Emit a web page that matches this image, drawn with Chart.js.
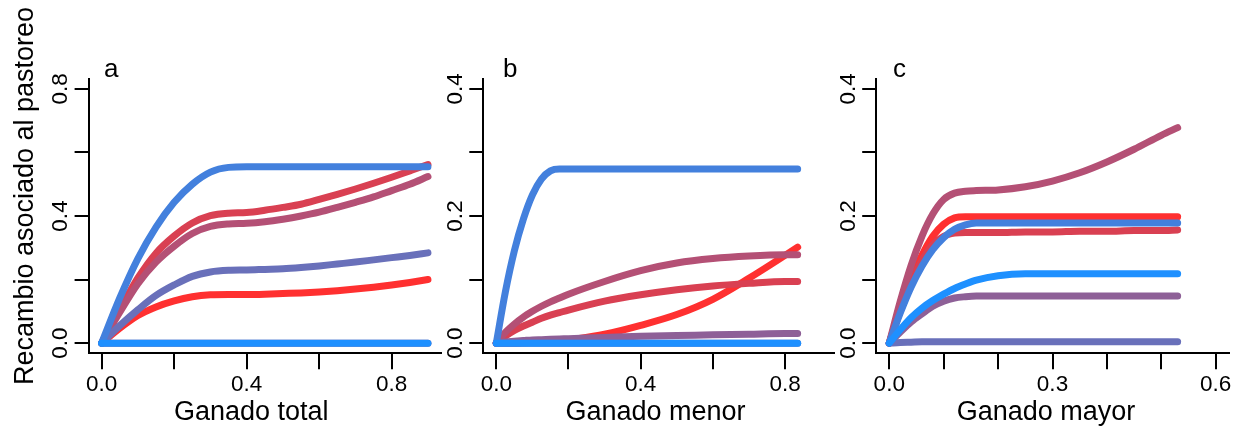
<!DOCTYPE html>
<html>
<head>
<meta charset="utf-8">
<title>Recambio asociado al pastoreo</title>
<script src="https://cdn.jsdelivr.net/npm/chart.js@4.4.1/dist/chart.umd.min.js"></script>
<style>
  body { margin: 0; background: #fff; }
  #wrap { position: relative; width: 1247px; height: 431px; }
  canvas { position: absolute; left: 0; top: 0; }
</style>
</head>
<body>
<div id="wrap">
  <canvas id="panelA" width="1247" height="431"></canvas>
  <canvas id="panelB" width="1247" height="431"></canvas>
  <canvas id="panelC" width="1247" height="431"></canvas>
</div>
<script>
// --- data ---

// colour ramp red -> dodgerblue, one per series
const seriesColors = ['#FF3030', '#D94052', '#B45075', '#8E6097', '#6970BA', '#4380DD', '#1E90FF'];

// panel a: Ganado total
const xTotal = [0, 0.05, 0.1, 0.15, 0.2, 0.25, 0.3, 0.35, 0.4, 0.45, 0.5, 0.55, 0.6, 0.65, 0.7, 0.75, 0.8, 0.85, 0.9];
const totalRed      = [0, .047, .087, .114, .133, .146, .152, .153, .153, .154, .156, .158, .161, .165, .17, .176, .183, .191, .2];
const totalRedMid   = [0, .105, .205, .283, .337, .378, .401, .409, .411, .418, .427, .437, .452, .468, .485, .503, .522, .542, .562];
const totalPurRed   = [0, .097, .187, .255, .305, .345, .367, .375, .377, .382, .39, .40, .412, .427, .443, .46, .48, .50, .524];
const totalPurple   = [0, 0, 0, 0, 0, 0, 0, 0, 0, 0, 0, 0, 0, 0, 0, 0, 0, 0, 0];
const totalBluePur  = [0, .055, .105, .15, .183, .21, .224, .229, .23, .232, .234, .238, .243, .249, .255, .262, .269, .276, .284];
const totalBlue     = [0, .142, .266, .365, .443, .5, .538, .553, .555, .555, .555, .555, .555, .555, .555, .555, .555, .555, .555];
const totalDodger   = [0, 0, 0, 0, 0, 0, 0, 0, 0, 0, 0, 0, 0, 0, 0, 0, 0, 0, 0];

// panel b: Ganado menor
const xMenor = [0, 0.025, 0.05, 0.075, 0.1, 0.125, 0.15, 0.175, 0.2, 0.3, 0.4, 0.5, 0.6, 0.7, 0.8, 0.835];
const menorRed      = [0, 0, 0, .0005, .001, .0015, .002, .003, .005, .014, .028, .045, .069, .102, .138, .151];
const menorRedMid   = [0, .011, .02, .027, .033, .039, .044, .048, .052, .066, .076, .084, .09, .094, .097, .097];
const menorPurRed   = [0, .017, .03, .041, .05, .058, .065, .071, .077, .097, .114, .126, .133, .137, .139, .139];
const menorPurple   = [0, .002, .003, .004, .005, .0055, .006, .0065, .007, .009, .011, .012, .013, .014, .015, .015];
const menorBluePur  = [0, 0, 0, 0, 0, 0, 0, 0, 0, 0, 0, 0, 0, 0, 0, 0];
const menorBlue     = [0, .08, .145, .195, .233, .258, .271, .274, .274, .274, .274, .274, .274, .274, .274, .274];
const menorDodger   = [0, 0, 0, 0, 0, 0, 0, 0, 0, 0, 0, 0, 0, 0, 0, 0];

// panel c: Ganado mayor
const xMayor = [0, 0.02, 0.04, 0.06, 0.08, 0.1, 0.12, 0.14, 0.16, 0.2, 0.25, 0.3, 0.35, 0.4, 0.45, 0.5, 0.53];
const mayorRed      = [0, .055, .1, .138, .168, .187, .197, .199, .199, .199, .199, .199, .199, .199, .199, .199, .199];
const mayorRedMid   = [0, .05, .095, .13, .155, .168, .173, .174, .174, .174, .175, .175, .176, .176, .177, .177, .178];
const mayorPurRed   = [0, .065, .122, .168, .203, .226, .236, .239, .24, .241, .246, .255, .268, .285, .305, .327, .339];
const mayorPurple   = [0, .017, .033, .046, .058, .066, .071, .073, .074, .074, .074, .074, .074, .074, .074, .074, .074];
const mayorBluePur  = [0, .001, .0015, .002, .002, .002, .002, .002, .002, .002, .002, .002, .002, .002, .002, .002, .002];
const mayorBlue     = [0, .047, .088, .121, .147, .166, .179, .186, .189, .189, .189, .189, .189, .189, .189, .189, .189];
const mayorDodger   = [0, .021, .04, .055, .067, .077, .086, .093, .099, .106, .109, .109, .109, .109, .109, .109, .109];

// ticks and labels
const xTicksTotal = [0, 0.2, 0.4, 0.6, 0.8];
const xLabelsTotal = ['0.0', '', '0.4', '', '0.8'];
const xTicksMayor = [0, 0.1, 0.2, 0.3, 0.4, 0.5, 0.6];
const xLabelsMayor = ['0.0', '', '', '0.3', '', '', '0.6'];
const yTicksWide = [0, 0.2, 0.4, 0.6, 0.8];
const yLabelsWide = ['0.0', '', '0.4', '', '0.8'];
const yTicksNarrow = [0, 0.1, 0.2, 0.3, 0.4];
const yLabelsNarrow = ['0.0', '', '0.2', '', '0.4'];

const yAxisTitle = 'Recambio asociado al pastoreo';

// --- drawing ---
const FONT = '"Liberation Sans", Arial, Helvetica, sans-serif';
const AREA_TOP = 78.7;
const AREA_BOTTOM = 353.3;

// R style texts: rotated y tick labels, panel letter, axis titles
const rTextPlugin = {
    id: 'rText',
    afterDraw(chart, args, opts) {
        const ctx = chart.ctx;
        const yScale = chart.scales.y;
        const left = chart.chartArea.left;
        ctx.save();
        ctx.fillStyle = '#000';
        ctx.textBaseline = 'alphabetic';
        ctx.textAlign = 'center';

        ctx.font = '22.5px ' + FONT;
        opts.yTicks.forEach((v, i) => {
            if (!opts.yLabels[i]) return;
            ctx.save();
            ctx.translate(left - 21.5, yScale.getPixelForValue(v));
            ctx.rotate(-Math.PI / 2);
            ctx.fillText(opts.yLabels[i], 0, 0);
            ctx.restore();
        });

        ctx.font = '27px ' + FONT;
        ctx.fillText(opts.xTitle, opts.titleX, 420);

        if (opts.yTitle) {
            ctx.save();
            ctx.translate(33.3, 196);
            ctx.rotate(-Math.PI / 2);
            ctx.fillText(opts.yTitle, 0, 0);
            ctx.restore();
        }

        ctx.textAlign = 'left';
        ctx.font = '26px ' + FONT;
        ctx.fillText(opts.letter, opts.letterX, 76.7);
        ctx.restore();
    }
};

function makePanel(p) {
    const datasets = p.series.map((ys, i) => ({
        data: p.xs.map((xv, j) => ({ x: xv, y: ys[j] })),
        borderColor: seriesColors[i],
        borderWidth: 7,
        borderCapStyle: 'round',
        borderJoinStyle: 'round',
        pointRadius: 0,
        fill: false,
        cubicInterpolationMode: 'monotone',
        order: seriesColors.length - i
    }));

    const axisGrid = (len) => ({ drawOnChartArea: false, tickLength: len, color: '#000', lineWidth: 2 });
    const axisBorder = { display: true, color: '#000', width: 2 };

    return new Chart(document.getElementById(p.id), {
        type: 'line',
        data: { datasets },
        options: {
            responsive: false,
            animation: false,
            devicePixelRatio: 1,
            events: [],
            layout: {
                padding: { left: p.left - 40, right: 1247 - p.right, top: AREA_TOP, bottom: 431 - AREA_BOTTOM - 50 }
            },
            plugins: {
                legend: { display: false },
                tooltip: { enabled: false },
                rText: {
                    yTicks: p.yTicks, yLabels: p.yLabels, xTitle: p.xTitle,
                    titleX: p.titleX, letter: p.letter, letterX: p.letterX, yTitle: p.yTitle
                }
            },
            scales: {
                x: {
                    type: 'linear',
                    bounds: 'data',
                    min: p.xMin,
                    max: p.xMax,
                    afterBuildTicks: s => { s.ticks = p.xTicks.map(v => ({ value: v })); },
                    afterFit: s => { s.height = 50; s.paddingLeft = 0; s.paddingRight = 0; },
                    ticks: {
                        autoSkip: false, maxRotation: 0, minRotation: 0, padding: 2, color: '#000',
                        font: { size: 22.5, family: FONT },
                        callback: (v, i) => p.xLabels[i]
                    },
                    grid: axisGrid(16),
                    border: axisBorder
                },
                y: {
                    type: 'linear',
                    bounds: 'data',
                    min: p.yMin,
                    max: p.yMax,
                    afterBuildTicks: s => { s.ticks = p.yTicks.map(v => ({ value: v })); },
                    afterFit: s => { s.width = 40; s.paddingTop = 0; s.paddingBottom = 0; },
                    ticks: { display: false },
                    grid: axisGrid(14),
                    border: axisBorder
                }
            }
        },
        plugins: [rTextPlugin]
    });
}

makePanel({
    id: 'panelA', letter: 'a', letterX: 104, xTitle: 'Ganado total', titleX: 251.3, yTitle: yAxisTitle,
    left: 88.6, right: 441.0, xMin: -0.036, xMax: 0.936, yMin: -0.032, yMax: 0.832,
    xs: xTotal,
    series: [totalRed, totalRedMid, totalPurRed, totalPurple, totalBluePur, totalBlue, totalDodger],
    xTicks: xTicksTotal, xLabels: xLabelsTotal, yTicks: yTicksWide, yLabels: yLabelsWide
});

makePanel({
    id: 'panelB', letter: 'b', letterX: 503, xTitle: 'Ganado menor', titleX: 655.5,
    left: 483.3, right: 834.1, xMin: -0.036, xMax: 0.936, yMin: -0.016, yMax: 0.416,
    xs: xMenor,
    series: [menorRed, menorRedMid, menorPurRed, menorPurple, menorBluePur, menorBlue, menorDodger],
    xTicks: xTicksTotal, xLabels: xLabelsTotal, yTicks: yTicksNarrow, yLabels: yLabelsNarrow
});

makePanel({
    id: 'panelC', letter: 'c', letterX: 893, xTitle: 'Ganado mayor', titleX: 1046,
    left: 876.2, right: 1228.8, xMin: -0.024, xMax: 0.624, yMin: -0.016, yMax: 0.416,
    xs: xMayor,
    series: [mayorRed, mayorRedMid, mayorPurRed, mayorPurple, mayorBluePur, mayorBlue, mayorDodger],
    xTicks: xTicksMayor, xLabels: xLabelsMayor, yTicks: yTicksNarrow, yLabels: yLabelsNarrow
});
</script>
</body>
</html>
